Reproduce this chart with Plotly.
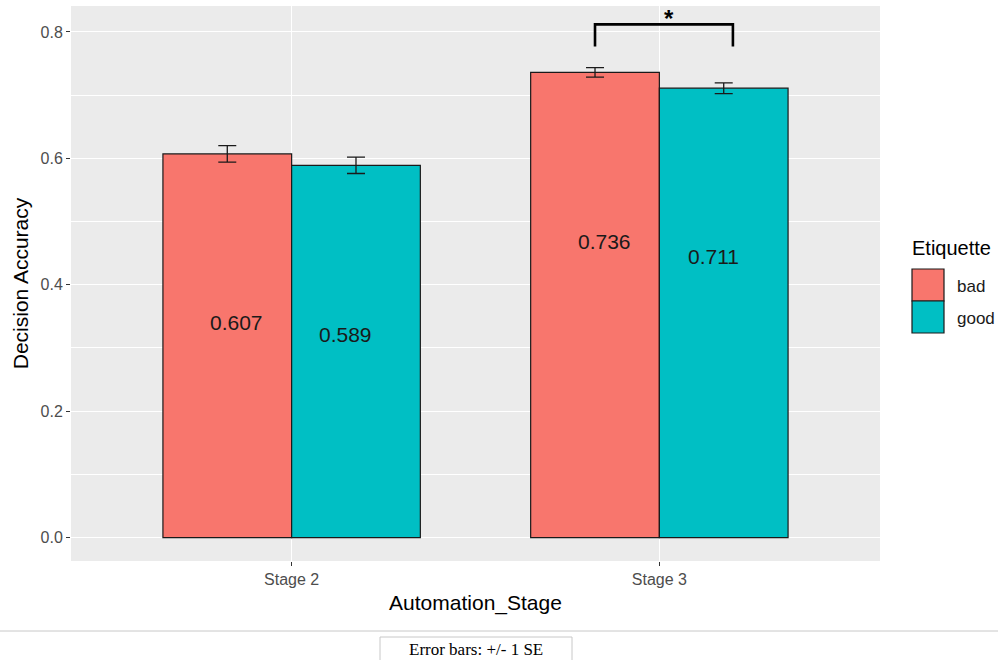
import plotly.graph_objects as go

# ---- data ----
stages = ["Stage 2", "Stage 3"]
etiquettes = ["bad", "good"]
accuracy_bad = [0.607, 0.736]
accuracy_good = [0.589, 0.711]
se_bad = [0.013, 0.0075]
se_good = [0.013, 0.0085]
y_ticks = [0.0, 0.2, 0.4, 0.6, 0.8]

W, H = 998, 660
L, R, T, B = 71, 880, 6, 561  # panel pixel box


def px(x):
    return (x - L) / (R - L)


def py(y):
    return (B - y) / (B - T)


colors = {"bad": "#F8766D", "good": "#00BFC4"}
xpos = list(range(len(stages)))
bar_w = 0.35
FONT = "Liberation Sans, Arial"

fig = go.Figure()
for name, vals, ses, off in [("bad", accuracy_bad, se_bad, -bar_w / 2),
                              ("good", accuracy_good, se_good, bar_w / 2)]:
    fig.add_trace(go.Bar(
        x=[p + off for p in xpos], y=vals, width=bar_w, name=name,
        marker=dict(color=colors[name], line=dict(color="#1a1a1a", width=1.2)),
        error_y=dict(type="data", array=ses, visible=True, color="#1a1a1a",
                     thickness=1.3, width=9),
        showlegend=False,
    ))
    for p, v in zip(xpos, vals):
        fig.add_annotation(x=p + off, y=v - 0.267, text=f"{v:.3f}",
                           showarrow=False, xshift=(9 if name == "bad" else -10),
                           font=dict(family=FONT, size=21, color="#1a1a1a"))

# significance bracket over Stage 3
fig.add_shape(type="path", xref="x", yref="y",
              path="M 0.825 0.777 L 0.825 0.812 L 1.2 0.812 L 1.2 0.777",
              line=dict(color="black", width=2.6))
fig.add_annotation(x=1.025, y=0.812, yshift=6, text="<b>*</b>", showarrow=False,
                   font=dict(family=FONT, size=24, color="black"))

# legend (manual, ggplot style)
fig.add_annotation(xref="paper", yref="paper", x=px(910), y=py(248), xanchor="left",
                   yanchor="middle", text="Etiquette", showarrow=False,
                   font=dict(family=FONT, size=20, color="black"))
for i, name in enumerate(etiquettes):
    y0 = 269 + i * 32
    fig.add_shape(type="rect", xref="paper", yref="paper",
                  x0=px(912), x1=px(944), y0=py(y0 + 32), y1=py(y0),
                  fillcolor=colors[name], line=dict(color="#1a1a1a", width=1.2))
    fig.add_annotation(xref="paper", yref="paper", x=px(955), y=py(y0 + 17),
                       xanchor="left", yanchor="middle", text=name, showarrow=False,
                       font=dict(family=FONT, size=17, color="#1a1a1a"))

# footer
fig.add_shape(type="line", xref="paper", yref="paper", x0=px(0), x1=px(W),
              y0=py(631), y1=py(631), line=dict(color="#c8c8c8", width=1))
fig.add_shape(type="rect", xref="paper", yref="paper", x0=px(380), x1=px(572),
              y0=py(664), y1=py(637), line=dict(color="#c8c8c8", width=1))
fig.add_annotation(xref="paper", yref="paper", x=px(476), y=py(649),
                   xanchor="center", yanchor="middle", text="Error bars: +/- 1 SE",
                   showarrow=False,
                   font=dict(family="Liberation Serif, Times New Roman", size=17, color="black"))

fig.update_layout(
    width=W, height=H,
    margin=dict(l=L, r=W - R, t=T, b=H - B, pad=0),
    paper_bgcolor="white", plot_bgcolor="#EBEBEB",
    barmode="overlay", showlegend=False,
    font=dict(family=FONT),
)
fig.update_xaxes(
    range=[-0.6, 1.6], tickvals=xpos, ticktext=stages,
    showgrid=True, gridcolor="white", gridwidth=1.2, zeroline=False,
    ticks="outside", ticklen=4, tickcolor="#333333",
    tickfont=dict(size=16, color="#4D4D4D"),
    title=dict(text="Automation_Stage", font=dict(size=21, color="black"), standoff=8),
)
fig.update_yaxes(
    range=[-0.037, 0.841], tickvals=y_ticks, tickformat=".1f",
    showgrid=True, gridcolor="white", gridwidth=1.2, zeroline=False,
    ticks="outside", ticklen=4, tickcolor="#333333",
    tickfont=dict(size=16, color="#4D4D4D"),
    minor=dict(tickvals=[0.1, 0.3, 0.5, 0.7], showgrid=True, gridcolor="white", gridwidth=0.6, ticks=""),
    title=dict(text="Decision Accuracy", font=dict(size=21, color="black"), standoff=6),
)

fig.write_html("out.html")
